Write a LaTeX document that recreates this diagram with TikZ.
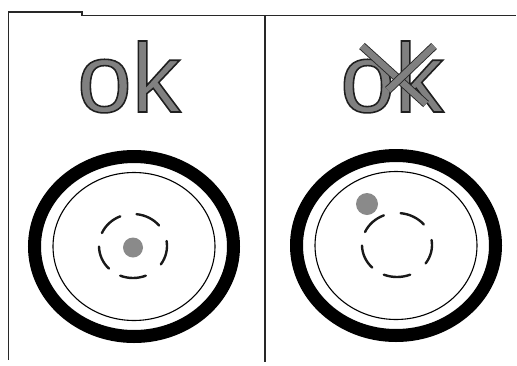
\documentclass[tikz,border=0pt]{standalone}
\usepackage{fontspec}
\setmainfont{Liberation Sans}
\newfontfamily\okfont[FakeBold=1.6]{Liberation Sans}
\usetikzlibrary{calc}
\definecolor{txtgray}{RGB}{128,128,128}
\definecolor{dotgray}{RGB}{138,138,138}
\definecolor{framegray}{RGB}{40,40,40}
\newcommand{\outlinedtext}[1]{\special{pdf:literal direct 0.12 G}#1}
\tikzset{
  framerule/.style={draw=framegray, line width=1.3pt},
  bigword/.style={text=txtgray, font=\okfont\fontsize{98}{98}\selectfont, inner sep=0pt, anchor=base west},
  ringthick/.style={draw=black, line width=13pt},
  ringthin/.style={draw=black, line width=1.1pt},
  dashring/.style={draw=black!90, line width=2.4pt, line cap=round},
  dotfill/.style={fill=dotgray},
  crossstroke/.style={draw=black!85, line width=0.9pt, double=txtgray, double distance=6.5pt, line cap=butt}
}
\begin{document}
\begin{tikzpicture}[x=1pt,y=-1pt]
\useasboundingbox (0,0) rectangle (517,365);
% frame
\draw[framerule] (8.5,360) -- (8.5,12) -- (82,12) -- (82,15.5) -- (516,15.5);
\draw[framerule] (265,15.5) -- (265,362);
% words
\node[bigword] (okL) at (77,112) {\outlinedtext{ok}};
\node[bigword] (okR) at (340,112) {\outlinedtext{ok}};
\draw[crossstroke] (362,46) -- (426,104);
\draw[crossstroke] (434,46) -- (388,90);
% left wheel
\coordinate (cL) at (134,246.5);
\draw[ringthick] (cL) ellipse[x radius=99.5, y radius=90];
\draw[ringthin] (cL) ellipse[x radius=81, y radius=74];
\foreach \c in {90,13,-62,-134,-203}
  \draw[dashring] ($(133,246)+({34*cos(\c-22)},{32*sin(\c-22)})$) arc[start angle=\c-22, end angle=\c+22, x radius=34, y radius=32];
\fill[dotfill] (133,247.5) circle[radius=10];
% right wheel
\coordinate (cR) at (396,245.5);
\draw[ringthick] (cR) ellipse[x radius=99.5, y radius=90];
\draw[ringthin] (cR) ellipse[x radius=81, y radius=74];
\foreach \c in {90,13,-62,-134,-203}
  \draw[dashring] ($(397,245)+({35*cos(\c-22)},{32*sin(\c-22)})$) arc[start angle=\c-22, end angle=\c+22, x radius=35, y radius=32];
\fill[dotfill] (367,204) circle[radius=11];
\end{tikzpicture}
\end{document}
